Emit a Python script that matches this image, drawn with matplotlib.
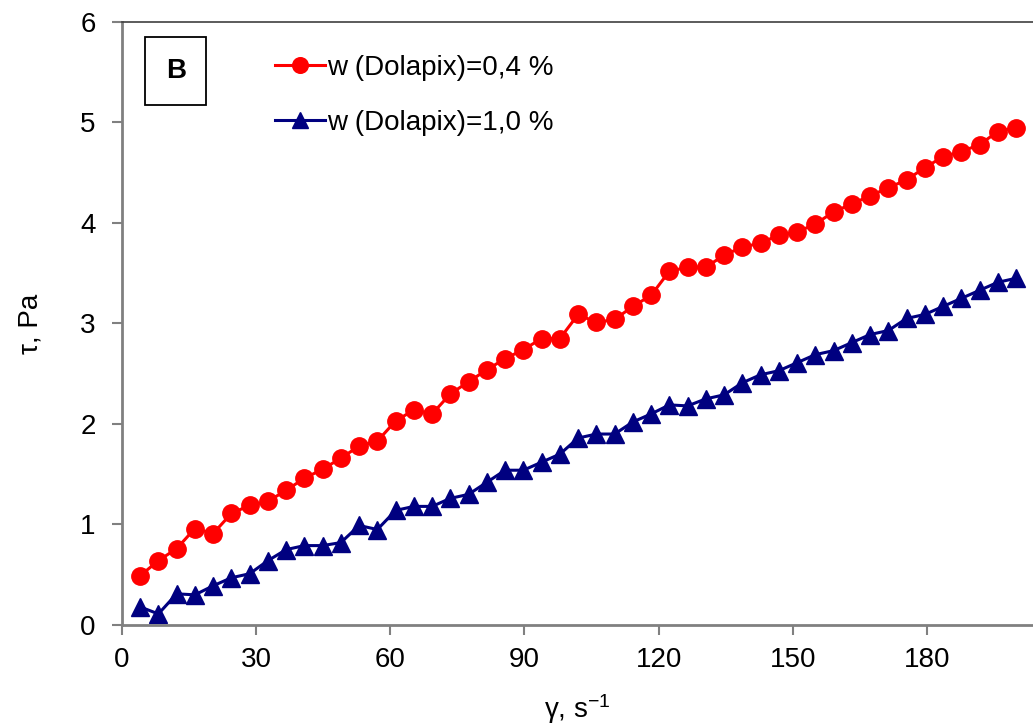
import numpy as np
import matplotlib
matplotlib.use("Agg")
import matplotlib.pyplot as plt

plt.rcParams['font.family'] = ['Liberation Sans', 'DejaVu Sans']
plt.rcParams['mathtext.default'] = 'regular'

# shear rate, s^-1
shear_rate = [4.08 * i for i in range(1, 50)]

# shear stress, Pa
tau_04 = [0.49, 0.64, 0.76, 0.96, 0.91, 1.11, 1.19, 1.23, 1.34, 1.46,
          1.55, 1.66, 1.78, 1.83, 2.03, 2.14, 2.10, 2.30, 2.42, 2.54,
          2.65, 2.74, 2.85, 2.85, 3.09, 3.01, 3.04, 3.17, 3.28, 3.52,
          3.56, 3.56, 3.68, 3.76, 3.80, 3.88, 3.91, 3.99, 4.11, 4.19,
          4.27, 4.35, 4.43, 4.55, 4.66, 4.71, 4.78, 4.91, 4.95]
tau_10 = [0.18, 0.11, 0.31, 0.30, 0.39, 0.47, 0.51, 0.64, 0.75, 0.79,
          0.79, 0.82, 0.99, 0.95, 1.14, 1.18, 1.18, 1.26, 1.30, 1.42,
          1.54, 1.54, 1.62, 1.70, 1.86, 1.90, 1.90, 2.02, 2.10, 2.19,
          2.18, 2.25, 2.29, 2.41, 2.49, 2.53, 2.61, 2.69, 2.73, 2.81,
          2.89, 2.93, 3.05, 3.09, 3.17, 3.25, 3.33, 3.41, 3.45]

labels = ['w (Dolapix)=0,4 %', 'w (Dolapix)=1,0 %']
xticks = [0, 30, 60, 90, 120, 150, 180]

fig = plt.figure(figsize=(10.33, 7.28), dpi=100)
ax = fig.add_axes([0.118, 0.1415, 0.882, 0.8283])

ax.plot(shear_rate, tau_04, '-o', color='#ff0000', lw=2.2, ms=12.5,
        label=labels[0])
ax.plot(shear_rate, tau_10, '-^', color='#000080', lw=2.2, ms=12.5,
        label=labels[1])

ax.set_xlim(0, 203.7)
ax.set_ylim(0, 6)
ax.set_xticks(xticks)
ax.set_yticks(range(0, 7))

for side in ['left', 'bottom']:
    ax.spines[side].set_color('#808080')
    ax.spines[side].set_linewidth(2)
ax.spines['top'].set_color('#404040')
ax.spines['top'].set_linewidth(1.2)
ax.spines['right'].set_visible(False)
ax.tick_params(direction='out', length=7, width=1.5, color='#808080',
               labelsize=20)
ax.tick_params(axis='y', pad=12)
ax.tick_params(axis='x', pad=9)

ax.set_xlabel('γ, s$^{-1}$', fontsize=20, labelpad=14)
ax.set_ylabel('τ, Pa', fontsize=20, labelpad=26)

ax.text(0.059, 0.919, 'B', transform=ax.transAxes, fontsize=20,
        fontweight='bold', ha='center', va='center',
        bbox=dict(boxstyle='square,pad=0.75', fc='white', ec='black', lw=1.3))

ax.legend(loc='upper left', bbox_to_anchor=(0.147, 0.978), frameon=False,
          fontsize=20, handlelength=1.8, handletextpad=0.08,
          labelspacing=1.05, borderaxespad=0.3, markerscale=0.9)

fig.savefig('out.png', dpi=100)
